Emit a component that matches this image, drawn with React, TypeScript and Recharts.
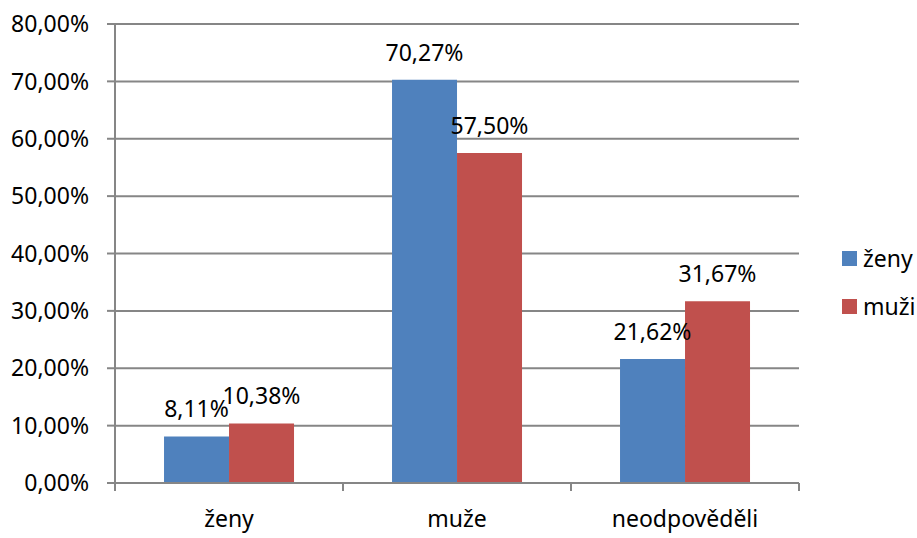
import React from "react";
import { BarChart, Bar, XAxis, YAxis, CartesianGrid, LabelList } from "recharts";

const categories = ["ženy", "muže", "neodpověděli"];
const zenyValues = [8.11, 70.27, 21.62];
const muziValues = [10.38, 57.5, 31.67];
const yTicks = [0, 10, 20, 30, 40, 50, 60, 70, 80];
const seriesNames = ["ženy", "muži"];

const BLUE = "#4F81BD";
const RED = "#C0504D";
const AXIS = "#868686";
const FONT = "'Noto Sans', sans-serif";
const FS = 23;

const W = 917;
const H = 538;
const PLOT_LEFT = 115;
const PLOT_RIGHT = 799;
const PLOT_BOTTOM = 483;
const CAT_W = (PLOT_RIGHT - PLOT_LEFT) / categories.length;

const data = categories.map((c, i) => ({
  name: c,
  zeny: zenyValues[i],
  muzi: muziValues[i],
}));

const fmt = (v: number) => v.toFixed(2).replace(".", ",") + "%";

// category labels centred, tick marks on the category boundaries
const CategoryTick = (props: any) => {
  const { x, payload, index } = props;
  const left = x - CAT_W / 2;
  const y = PLOT_BOTTOM;
  return (
    <g>
      <line x1={left} y1={y} x2={left} y2={y + 8} stroke={AXIS} strokeWidth={2} />
      {index === categories.length - 1 && (
        <line x1={left + CAT_W} y1={y} x2={left + CAT_W} y2={y + 8} stroke={AXIS} strokeWidth={2} />
      )}
      <text x={x} y={y + 44} textAnchor="middle" fill="#000" fontSize={FS} fontFamily={FONT}>
        {payload.value}
      </text>
    </g>
  );
};

export default function App() {
  return (
    <div style={{ position: "absolute", left: 0, top: 0, width: W, height: H, background: "#fff" }}>
      <BarChart
        width={W}
        height={H}
        data={data}
        margin={{ top: 24, right: W - PLOT_RIGHT, bottom: 0, left: 0 }}
        barCategoryGap="21.5%"
        barGap={0}
      >
        <CartesianGrid vertical={false} stroke={AXIS} strokeWidth={2} />
        <XAxis
          dataKey="name"
          axisLine={{ stroke: AXIS, strokeWidth: 2 }}
          tickLine={false}
          tick={<CategoryTick />}
          interval={0}
          height={H - PLOT_BOTTOM}
        />
        <YAxis
          width={PLOT_LEFT}
          domain={[0, 80]}
          ticks={yTicks}
          tickFormatter={fmt}
          axisLine={{ stroke: AXIS, strokeWidth: 2 }}
          tickLine={{ stroke: AXIS, strokeWidth: 2 }}
          tickSize={8}
          tickMargin={18}
          tick={{ fill: "#000", fontSize: FS, fontFamily: FONT }}
          interval={0}
        />
        <Bar dataKey="zeny" name={seriesNames[0]} fill={BLUE} isAnimationActive={false}>
          <LabelList dataKey="zeny" position="top" offset={19} formatter={(v: any) => fmt(Number(v))} fill="#000" fontSize={FS} fontFamily={FONT} />
        </Bar>
        <Bar dataKey="muzi" name={seriesNames[1]} fill={RED} isAnimationActive={false}>
          <LabelList dataKey="muzi" position="top" offset={19} formatter={(v: any) => fmt(Number(v))} fill="#000" fontSize={FS} fontFamily={FONT} />
        </Bar>
      </BarChart>
      {/* legend */}
      <div style={{ position: "absolute", left: 842, top: 251, fontFamily: FONT, fontSize: FS, color: "#000" }}>
        {seriesNames.map((n, i) => (
          <div key={n} style={{ position: "absolute", left: 0, top: i * 48, display: "flex", alignItems: "center", whiteSpace: "nowrap" }}>
            <span style={{ display: "inline-block", width: 15, height: 15, background: i === 0 ? BLUE : RED, marginRight: 6 }} />
            <span style={{ lineHeight: "15px" }}>{n}</span>
          </div>
        ))}
      </div>
    </div>
  );
}
